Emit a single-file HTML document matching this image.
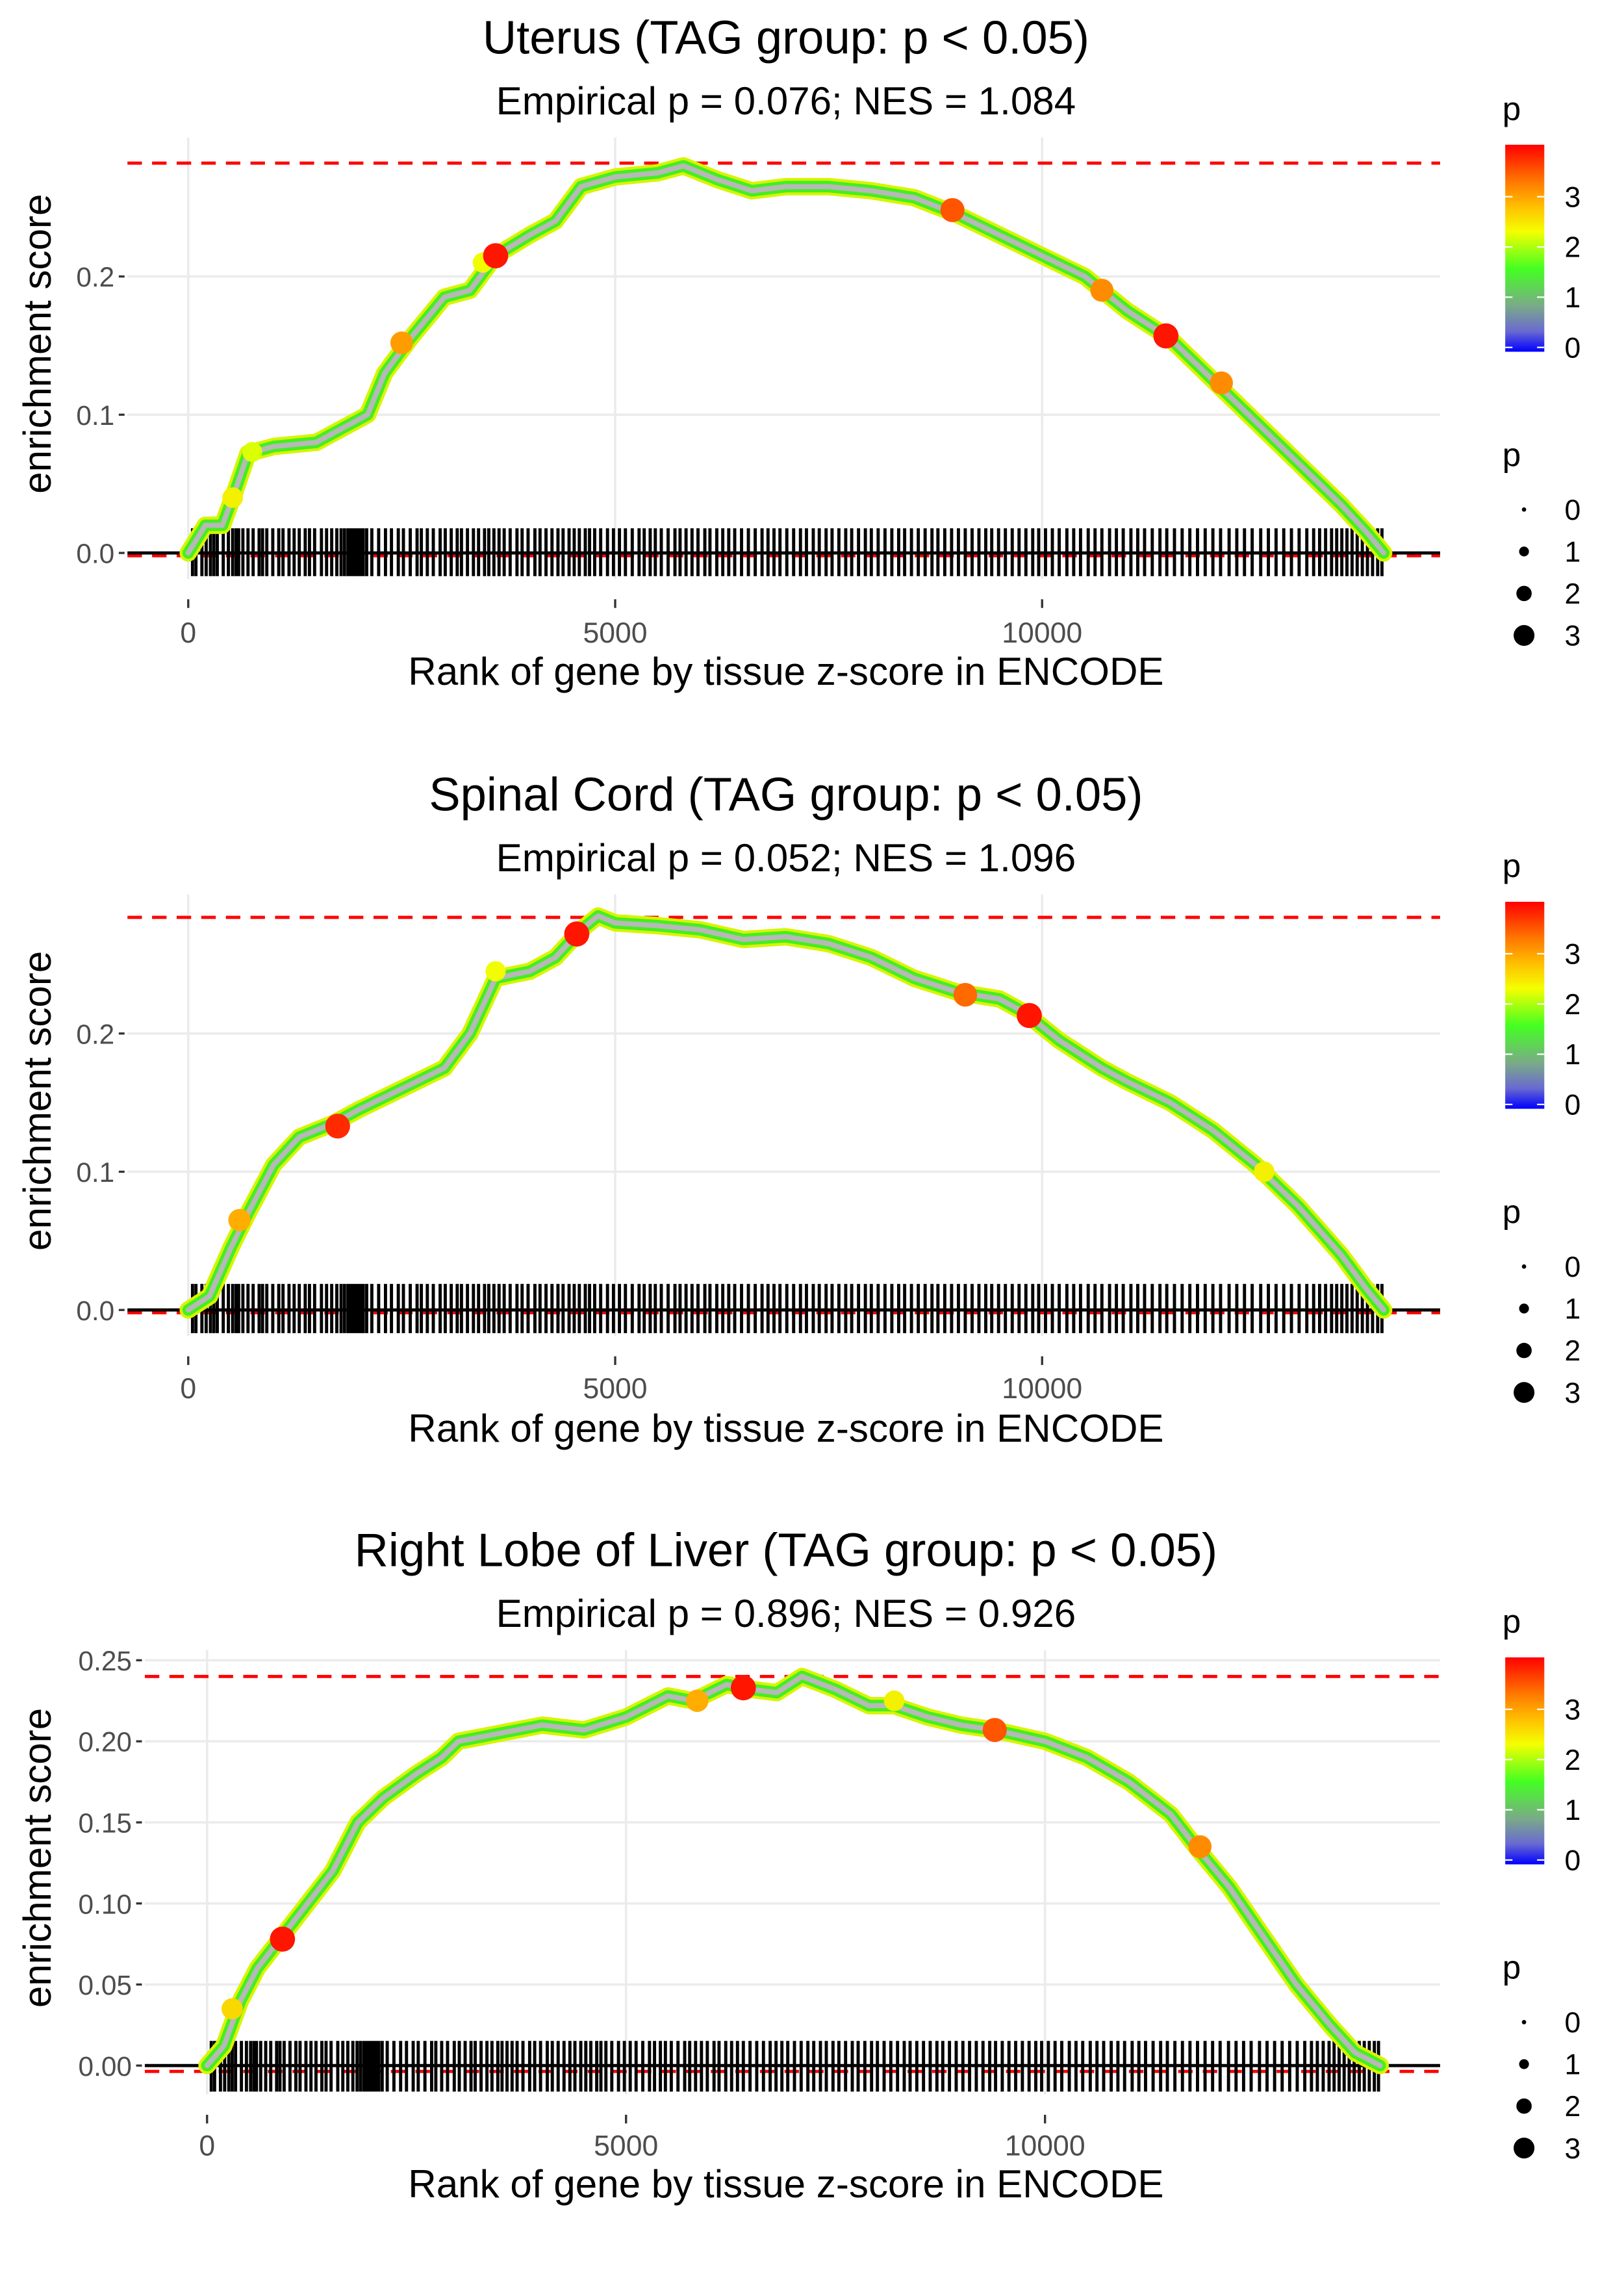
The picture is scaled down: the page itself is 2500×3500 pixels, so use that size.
<!DOCTYPE html>
<html><head><meta charset="utf-8"><style>
html,body{margin:0;padding:0;background:#fff;}
svg{display:block;font-family:"Liberation Sans",sans-serif;}
</style></head><body>
<svg id="chart" width="2500" height="3500" viewBox="0 0 1122 1571" xmlns="http://www.w3.org/2000/svg">
<defs>
<linearGradient id="pgrad" x1="0" y1="0" x2="0" y2="1">
<stop offset="0" stop-color="#ff0000"/>
<stop offset="0.18" stop-color="#ff7a00"/>
<stop offset="0.3" stop-color="#ffc000"/>
<stop offset="0.42" stop-color="#f4ff00"/>
<stop offset="0.6" stop-color="#44ff22"/>
<stop offset="0.78" stop-color="#7aaa88"/>
<stop offset="0.9" stop-color="#6a6ad0"/>
<stop offset="1" stop-color="#0000ff"/>
</linearGradient>
</defs>
</svg>
<script>
// ---- data ----
const titles = ["Uterus (TAG group: p < 0.05)","Spinal Cord (TAG group: p < 0.05)","Right Lobe of Liver (TAG group: p < 0.05)"];
const subtitles = ["Empirical p = 0.076; NES = 1.084","Empirical p = 0.052; NES = 1.096","Empirical p = 0.896; NES = 0.926"];
const ranks1 = [0,200,400,550,700,1000,1500,1800,2100,2300,2600,3000,3300,3600,4000,4300,4600,5000,5500,5800,6200,6600,7000,7500,8000,8500,9000,9500,10000,10500,11000,11500,12000,12500,13000,13500,13800,14000];
const es1 = [0,0.02,0.02,0.045,0.072,0.077,0.08,0.09,0.1,0.13,0.155,0.185,0.19,0.215,0.23,0.24,0.265,0.272,0.275,0.28,0.27,0.262,0.265,0.265,0.262,0.257,0.245,0.23,0.215,0.2,0.175,0.155,0.125,0.095,0.065,0.035,0.015,0];
const ranks2 = [0,250,500,700,1000,1300,1700,2000,2500,3000,3300,3600,4000,4300,4600,4800,5000,5500,6000,6500,7000,7500,8000,8500,9000,9500,9800,10200,10700,11000,11500,12000,12500,13000,13500,13800,14000];
const es2 = [0,0.01,0.045,0.07,0.105,0.125,0.135,0.145,0.16,0.175,0.2,0.24,0.245,0.255,0.275,0.285,0.28,0.278,0.275,0.268,0.27,0.265,0.255,0.24,0.23,0.225,0.215,0.195,0.175,0.165,0.15,0.13,0.105,0.075,0.04,0.015,0];
const ranks3 = [0,200,400,600,900,1200,1500,1800,2100,2500,2800,3000,3500,4000,4500,5000,5500,5800,6200,6500,6800,7100,7500,7900,8200,8600,9000,9400,10000,10500,11000,11500,11800,12200,12600,13000,13400,13700,14000];
const es3 = [0,0.012,0.04,0.06,0.08,0.1,0.12,0.15,0.165,0.18,0.19,0.2,0.205,0.21,0.207,0.215,0.228,0.225,0.235,0.232,0.23,0.24,0.232,0.222,0.222,0.215,0.21,0.207,0.2,0.19,0.175,0.155,0.135,0.11,0.08,0.05,0.025,0.008,0];
const hiRank1 = [520,750,2500,3450,3600,8950,10700,11450,12100];
const hiEs1 = [0.04,0.073,0.152,0.21,0.215,0.248,0.19,0.157,0.123];
const hiP1 = [2.6,2.4,3.2,2.5,3.9,3.6,3.3,3.9,3.3];
const hiRank2 = [600,1750,3600,4550,9100,9850,12600];
const hiEs2 = [0.065,0.133,0.245,0.272,0.228,0.213,0.1];
const hiP2 = [3.1,3.8,2.5,3.9,3.5,3.9,2.6];
const hiRank3 = [300,900,5850,6400,8200,9400,11850];
const hiEs3 = [0.035,0.078,0.225,0.233,0.225,0.207,0.135];
const hiP3 = [2.8,3.9,3.1,3.9,2.6,3.6,3.3];
const esMax = [0.282,0.284,0.240];
const esMin = [-0.002,-0.002,-0.0036];
const rugRanks = [50,90,160,210,260,300,340,410,470,520,560,590,640,700,760,830,870,920,990,1060,1110,1180,1240,1300,1370,1420,1480,1560,1620,1680,1740,1790,1830,1870,1900,1930,1960,1990,2020,2050,2090,2150,2230,2310,2380,2460,2520,2600,2680,2730,2800,2870,2950,3010,3080,3150,3200,3270,3340,3400,3470,3520,3580,3640,3700,3770,3850,3910,3980,4060,4120,4190,4260,4330,4390,4460,4520,4580,4650,4700,4760,4830,4910,4980,5050,5120,5200,5280,5340,5410,5470,5540,5620,5700,5760,5830,5900,5970,6050,6110,6190,6260,6330,6400,6480,6560,6640,6720,6790,6860,6930,7010,7090,7170,7240,7320,7390,7470,7540,7620,7700,7770,7850,7930,8000,8080,8160,8240,8320,8390,8470,8550,8630,8710,8780,8860,8940,9020,9100,9180,9260,9340,9410,9490,9570,9650,9730,9810,9890,9960,10040,10120,10200,10290,10370,10450,10540,10620,10700,10790,10870,10950,11040,11120,11200,11290,11380,11460,11550,11640,11730,11820,11910,12000,12090,12190,12280,12370,12460,12560,12650,12740,12830,12920,13010,13100,13180,13250,13320,13390,13450,13510,13570,13630,13690,13750,13810,13870,13930,13980];
const xTicks = [0,5000,10000];
const yTicks1 = [0,0.1,0.2], yLab1 = ["0.0","0.1","0.2"];
const yTicks3 = [0,0.05,0.1,0.15,0.2,0.25], yLab3 = ["0.00","0.05","0.10","0.15","0.20","0.25"];
const colorTicks = [0,1,2,3];
const sizeVals = [0,1,2,3];

// ---- drawing ----
const svg = document.getElementById('chart');
const NS = "http://www.w3.org/2000/svg";
function mk(tag, attrs, parent){const e=document.createElementNS(NS,tag);for(const k in attrs)e.setAttribute(k,attrs[k]);(parent||svg).appendChild(e);return e;}
function pcol(p){const t=Math.max(0,Math.min(1,p/4));
  const stops=[[0,[0,0,255]],[0.2,[110,110,200]],[0.35,[120,170,130]],[0.45,[60,255,40]],[0.62,[240,255,0]],[0.75,[255,190,0]],[0.87,[255,110,0]],[1,[255,0,0]]];
  for(let i=1;i<stops.length;i++){if(t<=stops[i][0]){const a=stops[i-1],b=stops[i];const f=(t-a[0])/(b[0]-a[0]);const c=a[1].map((v,j)=>Math.round(v+(b[1][j]-v)*f));return `rgb(${c})`;}}
  return 'rgb(255,0,0)';}

const panels = [
 {off:0,x0:130,xs:295/5000,y0:382,ys:955,left:88,right:995,top:95,bottom:400,rugT:365,rugB:398,ranks:ranks1,es:es1,hr:hiRank1,he:hiEs1,hp:hiP1,yt:yTicks1,yl:yLab1,titleY:37,subY:79,xlabY:473,xtY:444},
 {off:523,x0:130,xs:295/5000,y0:905,ys:955,left:88,right:995,top:618,bottom:923,rugT:887,rugB:921,ranks:ranks2,es:es2,hr:hiRank2,he:hiEs2,hp:hiP2,yt:yTicks1,yl:yLab1,titleY:560,subY:602,xlabY:996,xtY:966},
 {off:1045,x0:143,xs:289.5/5000,y0:1427,ys:1120,left:100,right:995,top:1140,bottom:1447,rugT:1410,rugB:1445,ranks:ranks3,es:es3,hr:hiRank3,he:hiEs3,hp:hiP3,yt:yTicks3,yl:yLab3,titleY:1082,subY:1124,xlabY:1518,xtY:1489}
];

panels.forEach((P,pi)=>{
  const g = mk('g',{});
  
  
  const X = r=>P.x0 + r*P.xs;
  const Y = v=>P.y0 - v*P.ys;
  xTicks.forEach(t=>{const l=mk('line',{x1:X(t),x2:X(t),y1:P.top,y2:P.bottom,stroke:'#ebebeb','stroke-width':1.6},g);
    });
  P.yt.forEach((t,i)=>{const l=mk('line',{x1:P.left,x2:P.right,y1:Y(t),y2:Y(t),stroke:'#ebebeb','stroke-width':1.6},g);
    
    const tk=mk('line',{x1:P.left-6,x2:P.left-2,y1:Y(t),y2:Y(t),stroke:'#333','stroke-width':1.5},g);
    
    const tx=mk('text',{x:P.left-9,y:Y(t)+7,'text-anchor':'end','font-size':19,fill:'#4d4d4d'},g);tx.textContent=P.yl[i];
    });
  xTicks.forEach(t=>{const tk=mk('line',{x1:X(t),x2:X(t),y1:P.bottom+14,y2:P.bottom+20,stroke:'#333','stroke-width':1.5},g);
    
    const tx=mk('text',{x:X(t),y:P.xtY,'text-anchor':'middle','font-size':20,fill:'#4d4d4d'},g);tx.textContent=t;
    });
  [esMax[pi],esMin[pi]].forEach((v,k)=>{const l=mk('line',{x1:P.left,x2:P.right,y1:Y(v),y2:Y(v),stroke:'#ff0000','stroke-width':2.2,'stroke-dasharray':'10,7'},g);
    });
  let d='';rugRanks.forEach(r=>{d+=`M${X(r).toFixed(2)},${P.rugT}V${P.rugB}`;});
  const rug=mk('path',{d:d,stroke:'#000','stroke-width':2.2,fill:'none'},g);
  
  const z=mk('line',{x1:P.left,x2:P.right,y1:Y(0),y2:Y(0),stroke:'#000','stroke-width':2.2},g);
  
  const pts=P.ranks.map((r,i)=>`${X(r).toFixed(2)},${Y(P.es[i]).toFixed(2)}`).join(' ');
  [['#d8f400',12],['#44ee22',8],['#b8b8b8',3.5]].forEach((s,k)=>{
    const pl=mk('polyline',{points:pts,fill:'none',stroke:s[0],'stroke-width':s[1],'stroke-linejoin':'round','stroke-linecap':'round'},g);
    });
  P.hr.forEach((r,i)=>{const c=mk('circle',{cx:X(r),cy:Y(P.he[i]),r:4+P.hp[i]*1.2,fill:pcol(P.hp[i])},g);
    });
  const t=mk('text',{x:543,y:P.titleY,'text-anchor':'middle','font-size':32.5,fill:'#000'},g);t.textContent=titles[pi];
  
  const st=mk('text',{x:543,y:P.subY,'text-anchor':'middle','font-size':27,fill:'#000'},g);st.textContent=subtitles[pi];
  
  const xl=mk('text',{x:543,y:P.xlabY,'text-anchor':'middle','font-size':27,fill:'#000'},g);xl.textContent='Rank of gene by tissue z-score in ENCODE';
  
  const cy=(P.top+P.bottom)/2-10;
  const yl=mk('text',{x:0,y:0,'text-anchor':'middle','font-size':27,fill:'#000',transform:`translate(35,${cy}) rotate(-90)`},g);yl.textContent='enrichment score';
  
  const o=P.off;
  const lt=mk('text',{x:1038,y:83+o,'font-size':23,fill:'#000'},g);lt.textContent='p';
  
  const bar=mk('rect',{x:1040,y:100+o,width:27,height:143,fill:'url(#pgrad)'},g);
  
  colorTicks.forEach(v=>{const y2=240+o-v*34.7;
    mk('line',{x1:1040,x2:1045,y1:y2,y2:y2,stroke:'#fff','stroke-width':1},g);
    mk('line',{x1:1062,x2:1067,y1:y2,y2:y2,stroke:'#fff','stroke-width':1},g);
    const tx=mk('text',{x:1081,y:y2+7,'font-size':20,fill:'#000'},g);tx.textContent=v;
    });
  const st2=mk('text',{x:1038,y:322+o,'font-size':23,fill:'#000'},g);st2.textContent='p';
  
  sizeVals.forEach((v,i)=>{const yy=352+o+i*29;
    const c=mk('circle',{cx:1053,cy:yy,r:1.5+v*1.9,fill:'#000'},g);
    
    const tx=mk('text',{x:1081,y:yy+7,'font-size':20,fill:'#000'},g);tx.textContent=v;
    });
});
</script>
</body></html>
